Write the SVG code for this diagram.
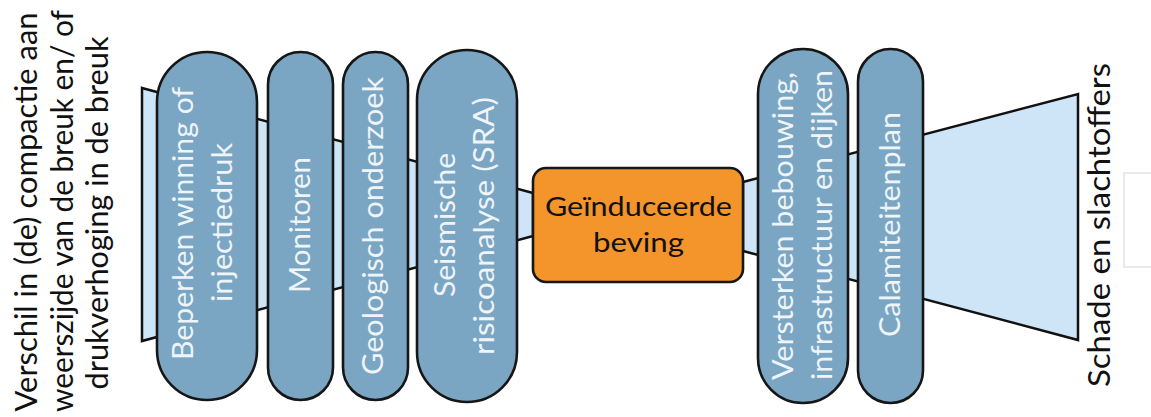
<svg xmlns="http://www.w3.org/2000/svg" width="1151" height="417" viewBox="0 0 1151 417">
<defs>
<style>
.bg{fill:#ffffff}
.funnel{fill:#cde5f6;stroke:#111111;stroke-width:2.5;stroke-linejoin:miter}
.pill{fill:#7ba6c3;stroke:#161616;stroke-width:2.6}
.box{fill:#f3952a;stroke:#161616;stroke-width:2.6}
.pt{font-family:Lato,"Open Sans","Liberation Sans",sans-serif;font-size:29px;fill:#eef4f8;text-anchor:middle}
.bt{font-family:Lato,"Open Sans","Liberation Sans",sans-serif;font-size:27.5px;fill:#111111;text-anchor:middle}
.lt{font-family:Lato,"Open Sans","Liberation Sans",sans-serif;font-size:30px;fill:#111111;text-anchor:middle}
</style>
</defs>
<rect class="bg" x="0" y="0" width="1151" height="417"/>

<g id="connectors">
<path class="funnel" d="M142,88 L533,193 L533,236 L142,341 Z"/>
<path class="funnel" d="M743,182 L1078,94 L1078,340 L743,251 Z"/>
</g>

<g id="oorzaak">
<g transform="translate(37,212) rotate(-90)"><text class="lt" x="0" y="0" textLength="399" lengthAdjust="spacingAndGlyphs">Verschil in (de) compactie aan</text></g>
<g transform="translate(73,211) rotate(-90)"><text class="lt" x="0" y="0" textLength="402" lengthAdjust="spacingAndGlyphs">weerszijde van de breuk en/ of</text></g>
<g transform="translate(108,213) rotate(-90)"><text class="lt" x="0" y="0" textLength="353" lengthAdjust="spacingAndGlyphs">drukverhoging in de breuk</text></g>
</g>

<g id="beperken">
<rect class="pill" x="157" y="52" width="100" height="348" rx="50" ry="50"/>
<g transform="translate(193,223.5) rotate(-90)"><text class="pt" x="0" y="0" textLength="273" lengthAdjust="spacingAndGlyphs">Beperken winning of</text></g>
<g transform="translate(232,222.5) rotate(-90)"><text class="pt" x="0" y="0" textLength="159" lengthAdjust="spacingAndGlyphs">injectiedruk</text></g>
</g>

<g id="monitoren">
<rect class="pill" x="268" y="52" width="65" height="348" rx="32.5" ry="32.5"/>
<g transform="translate(310,225) rotate(-90)"><text class="pt" x="0" y="0" textLength="136" lengthAdjust="spacingAndGlyphs">Monitoren</text></g>
</g>

<g id="geologisch">
<rect class="pill" x="343" y="52" width="65" height="348" rx="32.5" ry="32.5"/>
<g transform="translate(383,226) rotate(-90)"><text class="pt" x="0" y="0" textLength="298" lengthAdjust="spacingAndGlyphs">Geologisch onderzoek</text></g>
</g>

<g id="sra">
<rect class="pill" x="417" y="50" width="100" height="352" rx="50" ry="50"/>
<g transform="translate(455,225) rotate(-90)"><text class="pt" x="0" y="0" textLength="144" lengthAdjust="spacingAndGlyphs">Seismische</text></g>
<g transform="translate(494,226) rotate(-90)"><text class="pt" x="0" y="0" textLength="258" lengthAdjust="spacingAndGlyphs">risicoanalyse (SRA)</text></g>
</g>

<g id="beving">
<rect class="box" x="533" y="168" width="210" height="114" rx="13" ry="13"/>
<text class="bt" x="638.5" y="216" textLength="187" lengthAdjust="spacingAndGlyphs">Geïnduceerde</text>
<text class="bt" x="638.5" y="252" textLength="91" lengthAdjust="spacingAndGlyphs">beving</text>
</g>

<g id="versterken">
<rect class="pill" x="758" y="49" width="90" height="354" rx="45" ry="45"/>
<g transform="translate(793,226) rotate(-90)"><text class="pt" x="0" y="0" textLength="308" lengthAdjust="spacingAndGlyphs">Versterken bebouwing,</text></g>
<g transform="translate(832,225) rotate(-90)"><text class="pt" x="0" y="0" textLength="310" lengthAdjust="spacingAndGlyphs">infrastructuur en dijken</text></g>
</g>

<g id="calamiteitenplan">
<rect class="pill" x="858" y="49" width="65" height="354" rx="32.5" ry="32.5"/>
<g transform="translate(900,224.5) rotate(-90)"><text class="pt" x="0" y="0" textLength="225" lengthAdjust="spacingAndGlyphs">Calamiteitenplan</text></g>
</g>

<g id="gevolg">
<g transform="translate(1110,225) rotate(-90)"><text class="lt" x="0" y="0" textLength="324" lengthAdjust="spacingAndGlyphs">Schade en slachtoffers</text></g>
</g>

<g id="kader">
<rect x="1124" y="173" width="40" height="94" fill="none" stroke="#dcdcdc" stroke-width="1.2"/>
</g>
</svg>
